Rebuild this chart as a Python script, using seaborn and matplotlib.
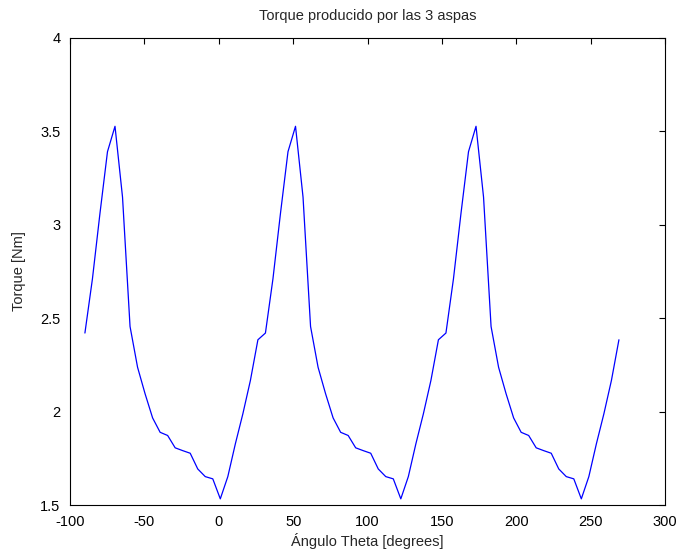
import numpy as np
import pandas as pd
import matplotlib
matplotlib.use("Agg")
import matplotlib.pyplot as plt
import seaborn as sns
from matplotlib.ticker import FuncFormatter

# ---- data ----
theta = np.linspace(-90, 269, 72)  # sampling grid of the angle (degrees)
torque = [
    2.42, 2.71, 3.06, 3.39, 3.526, 3.147, 2.455, 2.237, 2.095, 1.966, 1.889, 1.872,
    1.806, 1.791, 1.777, 1.693, 1.652, 1.640, 1.533, 1.652, 1.827, 1.988, 2.166, 2.384,
    2.42, 2.71, 3.06, 3.39, 3.526, 3.147, 2.455, 2.237, 2.095, 1.966, 1.889, 1.872,
    1.806, 1.791, 1.777, 1.693, 1.652, 1.640, 1.533, 1.652, 1.827, 1.988, 2.166, 2.384,
    2.42, 2.71, 3.06, 3.39, 3.526, 3.147, 2.455, 2.237, 2.095, 1.966, 1.889, 1.872,
    1.806, 1.791, 1.777, 1.693, 1.652, 1.640, 1.533, 1.652, 1.827, 1.988, 2.166, 2.384,
]
x_ticks = [-100, -50, 0, 50, 100, 150, 200, 250, 300]
y_ticks = [1.5, 2, 2.5, 3, 3.5, 4]
title = "Torque producido por las 3 aspas"
xlabel = "Ángulo Theta [degrees]"
ylabel = "Torque [Nm]"

df = pd.DataFrame({"theta": theta, "torque": torque})

sns.set_style("white")
plt.rcParams["font.family"] = ["Liberation Sans", "DejaVu Sans"]

fig = plt.figure(figsize=(6.8, 5.54), dpi=100)
ax = fig.add_axes([0.103, 0.0884, 0.875, 0.8436])

sns.lineplot(data=df, x="theta", y="torque", ax=ax, color=(0, 0, 1),
             linewidth=0.9, estimator=None, sort=False)

ax.set_xlim(-100, 300)
ax.set_ylim(1.5, 4)
ax.set_xticks(x_ticks)
ax.set_yticks(y_ticks)
ax.yaxis.set_major_formatter(FuncFormatter(lambda v, p: f"{v:g}"))
ax.xaxis.set_major_formatter(FuncFormatter(lambda v, p: f"{v:g}"))
ax.tick_params(direction="in", length=4, width=0.8, top=True, right=True,
               labelsize=10.5, colors="black")
ax.tick_params(axis="x", pad=7)
ax.tick_params(axis="y", pad=7)
for s in ax.spines.values():
    s.set_visible(True)
    s.set_color("black")
    s.set_linewidth(0.8)

ax.set_title(title, fontsize=10.5, pad=13)
ax.set_xlabel(xlabel, fontsize=10.5, labelpad=3)
ax.set_ylabel(ylabel, fontsize=10.5, labelpad=10)

fig.savefig("out.png", dpi=100, facecolor="white")
